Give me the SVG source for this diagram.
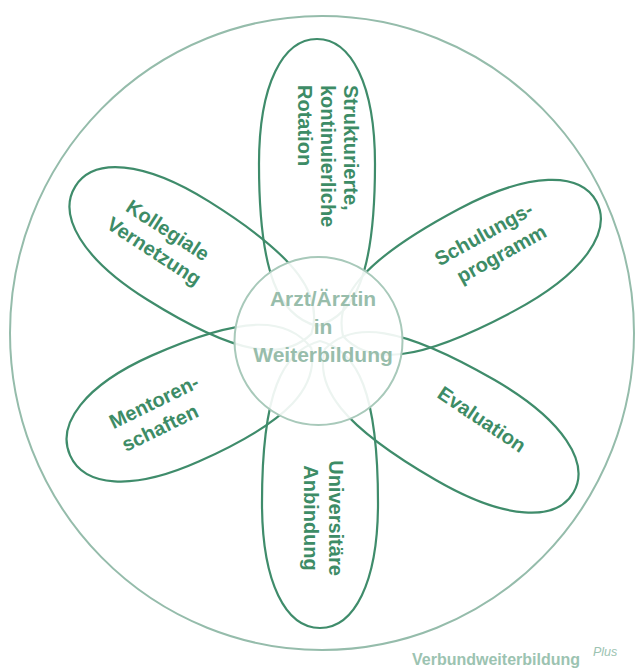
<svg xmlns="http://www.w3.org/2000/svg" width="636" height="669" viewBox="0 0 636 669">
  <style>
    .petal { fill: none; stroke: #3f8c6b; stroke-width: 2.2; }
    .ptext { font-family: "Liberation Sans", Arial, sans-serif; font-weight: bold; font-size: 20px; fill: #3d8c66; }
    .ctext { font-family: "Liberation Sans", Arial, sans-serif; font-weight: bold; font-size: 21px; fill: #98bdab; text-anchor: middle; }
    .foot { font-family: "Liberation Sans", Arial, sans-serif; fill: #9cc3b1; }
  </style>
  <defs>
    <!-- one egg-shaped petal, narrow end at the origin, pointing up -->
    <path id="petal" vector-effect="non-scaling-stroke" d="M 0,-8 C -38,-18 -58,-60 -58,-170 C -58,-250 -34,-295 0,-295 C 34,-295 58,-250 58,-170 C 58,-60 38,-18 0,-8 Z"/>
  </defs>

  <!-- outer ring -->
  <ellipse id="ring" cx="322" cy="333" rx="312" ry="317" fill="none" stroke="#95bcab" stroke-width="2"/>

  <g id="petals">
    <use href="#petal" class="petal" transform="translate(317,334)"/>
    <use href="#petal" class="petal" transform="translate(336,340) rotate(62)"/>
    <use href="#petal" class="petal" transform="translate(318,345) rotate(120)"/>
    <use href="#petal" class="petal" transform="translate(320,333) rotate(180)"/>
    <use href="#petal" class="petal" transform="translate(318,345) rotate(-114) scale(1,0.92)"/>
    <use href="#petal" class="petal" transform="translate(318,338) rotate(-58) scale(1,0.97)"/>
  </g>

  <g id="center">
    <circle cx="318.5" cy="341" r="84" fill="#ffffff" fill-opacity="0.9" stroke="#a8c9ba" stroke-width="2"/>
    <text class="ctext" x="323" y="306">Arzt/Ärztin</text>
    <text class="ctext" x="323" y="334">in</text>
    <text class="ctext" x="323" y="362">Weiterbildung</text>
  </g>

  <g id="rotation">
    <g transform="translate(344,85) rotate(90)">
      <text class="ptext" x="0" y="0">Strukturierte,</text>
      <text class="ptext" x="0" y="23">kontinuierliche</text>
      <text class="ptext" x="0" y="46">Rotation</text>
    </g>
  </g>

  <g id="schulung">
    <g transform="translate(487,240) rotate(-29)" text-anchor="middle">
      <text class="ptext" x="0" y="0">Schulungs-</text>
      <text class="ptext" x="6" y="26">programm</text>
    </g>
  </g>

  <g id="evaluation">
    <text class="ptext" text-anchor="middle" transform="translate(478,425) rotate(34)">Evaluation</text>
  </g>

  <g id="universitaet">
    <g transform="translate(329,518) rotate(90)" text-anchor="middle">
      <text class="ptext" x="0" y="0">Universitäre</text>
      <text class="ptext" x="0" y="25">Anbindung</text>
    </g>
  </g>

  <g id="mentoren">
    <g transform="translate(157,408) rotate(-26)" text-anchor="middle">
      <text class="ptext" x="0" y="0">Mentoren-</text>
      <text class="ptext" x="-6" y="26">schaften</text>
    </g>
  </g>

  <g id="vernetzung">
    <g transform="translate(164,236) rotate(33)" text-anchor="middle">
      <text class="ptext" x="0" y="0">Kollegiale</text>
      <text class="ptext" x="0" y="25">Vernetzung</text>
    </g>
  </g>

  <g id="brand">
    <text class="foot" x="412" y="665" font-size="16" font-weight="bold">Verbundweiterbildung</text>
    <text class="foot" x="593" y="656" font-size="12.5" font-style="italic">Plus</text>
  </g>
</svg>
